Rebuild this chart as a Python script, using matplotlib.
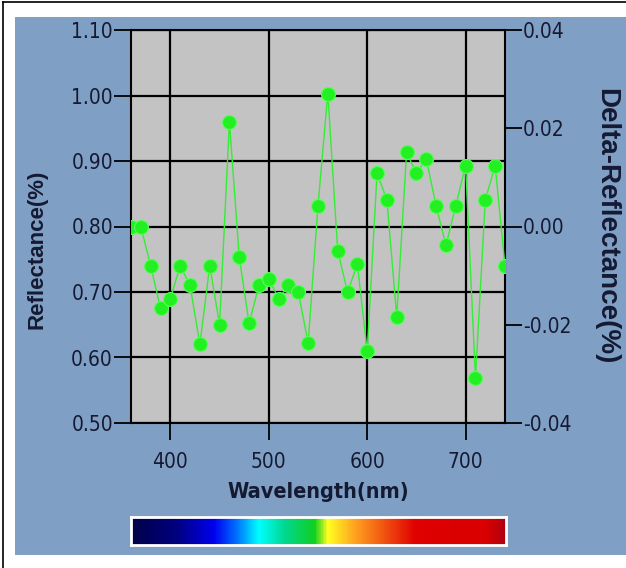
import numpy as np
import matplotlib
matplotlib.use('Agg')
import matplotlib.pyplot as plt
from matplotlib.patches import Rectangle
from matplotlib.colors import LinearSegmentedColormap
from matplotlib.lines import Line2D

PANEL = '#809fc4'
PLOT_BG = '#c3c3c3'
TEXT = '#151a33'
LABEL_FONT = ['Liberation Sans', 'DejaVu Sans']

wavelength = [360, 370, 380, 390, 400, 410, 420, 430, 440, 450,
              460, 470, 480, 490, 500, 510, 520, 530, 540, 550,
              560, 570, 580, 590, 600, 610, 620, 630, 640, 650,
              660, 670, 680, 690, 700, 710, 720, 730, 740]
reflectance = [0.80, 0.80, 0.74, 0.675, 0.69, 0.74, 0.71, 0.62, 0.74, 0.65,
               0.96, 0.753, 0.652, 0.71, 0.72, 0.69, 0.71, 0.70, 0.622, 0.832,
               1.003, 0.763, 0.70, 0.742, 0.61, 0.881, 0.841, 0.662, 0.913, 0.881,
               0.903, 0.832, 0.771, 0.832, 0.893, 0.569, 0.841, 0.893, 0.74]
x_ticks = [400, 500, 600, 700]
left_ticks = [0.50, 0.60, 0.70, 0.80, 0.90, 1.00, 1.10]
right_ticks = [-0.04, -0.02, 0.00, 0.02, 0.04]
spectrum = [(0.00, '#000048'), (0.12, '#000080'), (0.22, '#0000f0'), (0.28, '#0070ff'),
            (0.34, '#00ffff'), (0.41, '#00d890'), (0.49, '#10d020'), (0.525, '#ffff20'),
            (0.60, '#ffa020'), (0.68, '#f05010'), (0.76, '#e00000'), (0.95, '#d80000'),
            (1.00, '#b00010')]

plt.rcParams['font.family'] = ['DejaVu Sans']
plt.rcParams['font.stretch'] = 'condensed'
W, H = 626, 568
fig = plt.figure(figsize=(W / 100, H / 100), dpi=100, facecolor='white')

# blue panel and the thin black frame
fig.patches.append(Rectangle((15 / W, 1 - 555 / H), 1 - 15 / W, (555 - 17) / H,
                             transform=fig.transFigure, facecolor=PANEL, edgecolor='none', zorder=-10))
fig.lines.append(Line2D([3 / W, 1], [1 - 2 / H, 1 - 2 / H], transform=fig.transFigure,
                        color='black', lw=1.2, zorder=-10))
fig.lines.append(Line2D([3 / W, 3 / W], [0, 1 - 2 / H], transform=fig.transFigure,
                        color='black', lw=1.2, zorder=-10))

ax = fig.add_axes([131 / W, 1 - 423 / H, (505 - 131) / W, (423 - 30) / H])
ax.set_facecolor(PLOT_BG)
ax.plot(wavelength, reflectance, color='#33ee33', lw=1.0, marker='o', ms=10,
        mfc='#22f022', mec='#55ff55', mew=0.8, zorder=3)
ax.set_xlim(360, 740)
ax.set_ylim(0.50, 1.10)
ax.set_xticks(x_ticks)
ax.set_yticks(left_ticks)
ax.set_yticklabels([f'{v:.2f}' for v in left_ticks])
ax.grid(True, color='black', lw=1.6)
ax.set_axisbelow(True)
for s in ax.spines.values():
    s.set_color('black')
    s.set_linewidth(1.5)
ax.tick_params(length=12, width=1.3, color='black', labelsize=15, labelcolor=TEXT, pad=1)
ax.tick_params(axis='x', pad=9)
ax.set_xlabel('Wavelength(nm)', fontsize=15.5, fontweight='bold', color=TEXT, va='center')
ax.xaxis.set_label_coords(0.5, -0.175)
ax.set_ylabel('Reflectance(%)', fontsize=16, fontweight='bold', color=TEXT,
              family=LABEL_FONT, fontstretch='normal', va='center')
ax.yaxis.set_label_coords(-0.251, 0.443)

ax2 = ax.twinx()
ax2.set_ylim(-0.04, 0.04)
ax2.set_yticks(right_ticks)
ax2.set_yticklabels([f'{v:.2f}' for v in right_ticks])
ax2.tick_params(length=12, width=1.3, color='black', labelsize=15, labelcolor=TEXT, pad=1)
for s in ax2.spines.values():
    s.set_visible(False)
ax2.set_ylabel('Delta-Reflectance(%)', fontsize=20, fontweight='bold', color=TEXT,
               family=LABEL_FONT, fontstretch='normal', rotation=-90, va='center')
ax2.yaxis.set_label_coords(1.27, 0.5)

# wavelength colour strip
cmap = LinearSegmentedColormap.from_list('spec', spectrum)
cax = fig.add_axes([131 / W, 1 - 545 / H, (506 - 131) / W, (545 - 517) / H])
cax.imshow(np.linspace(0, 1, 400)[None, :], aspect='auto', cmap=cmap)
cax.set_xticks([])
cax.set_yticks([])
for s in cax.spines.values():
    s.set_color('white')
    s.set_linewidth(2)

fig.savefig('out.png', dpi=100, facecolor='white')
